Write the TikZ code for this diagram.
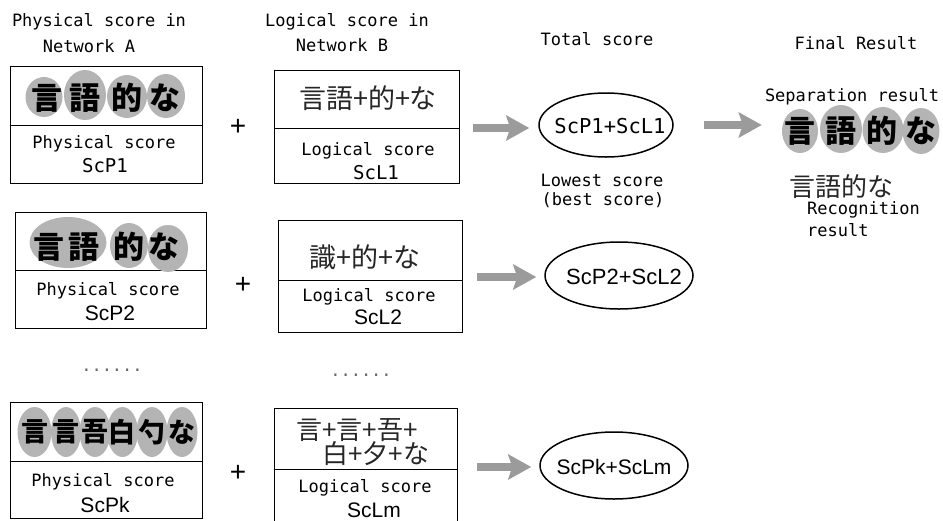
\documentclass[tikz,border=0pt]{standalone}
\usepackage{fontspec}
\usetikzlibrary{shapes.geometric,arrows.meta}
\newfontfamily\monofam{DejaVu Sans Mono}
\newfontfamily\sansfam{Liberation Sans}
\newfontfamily\cjkfam{Noto Sans CJK JP}
\definecolor{blobgray}{RGB}{180,180,180}
\definecolor{arrowgray}{RGB}{155,155,155}

\begin{document}
\begin{tikzpicture}[x=1pt,y=-1pt,
  boxpart/.style={draw, line width=1.3pt, inner sep=0, anchor=north west},
  label/.style={inner sep=0, font=\monofam\fontsize{17}{20}\selectfont},
  monoscore/.style={inner sep=0, font=\monofam\fontsize{19}{22}\selectfont},
  sansscore/.style={inner sep=0, font=\sansfam\fontsize{21}{24}\selectfont},
  sumell/.style={draw, ellipse, line width=1.5pt, inner sep=0},
  blob/.style={ellipse, fill=blobgray, inner sep=0},
  brush/.style={inner sep=0, font=\cjkfam\bfseries\fontsize{31}{34}\selectfont},
  brushs/.style={inner sep=0, font=\cjkfam\bfseries\fontsize{27}{30}\selectfont},
  mincho/.style={inner sep=0, text=black!85, font=\cjkfam\fontsize{27}{30}\selectfont},
  plussign/.style={inner sep=0, font=\sansfam\fontsize{28}{30}\selectfont},
  dotrow/.style={inner sep=0, text=black!60, font=\monofam\fontsize{17}{20}\selectfont},
  bigarrow/.style={draw=arrowgray, line width=8pt,
    -{Stealth[length=23pt,width=25pt,inset=4pt]}}
]
\useasboundingbox (0,0) rectangle (943,520);

% column headers
\node[label] (hA1) at (99,22) {Physical score in};
\node[label] (hA2) at (89,46) {Network A};
\node[label] (hB1) at (347,22) {Logical score in};
\node[label] (hB2) at (342,45) {Network B};
\node[label] (hT) at (597,39) {Total score};
\node[label] (hF) at (856,43) {Final Result};

% ---- row 1 ----
\node[boxpart, minimum width=192, minimum height=59] (p1top) at (10,66) {};
\node[boxpart, minimum width=192, minimum height=58] (p1bot) at (10,125) {};
\node[blob, minimum width=37, minimum height=40] (p1b1) at (44,97) {};
\node[blob, minimum width=42, minimum height=50] (p1b2) at (85,95) {};
\node[blob, minimum width=40, minimum height=43] (p1b3) at (127,96.5) {};
\node[blob, minimum width=38, minimum height=44] (p1b4) at (166,96) {};
\node[brush] (p1c1) at (47,98) {言};
\node[brush] (p1c2) at (85,98) {語};
\node[brush] (p1c3) at (127,98) {的};
\node[brush] (p1c4) at (165,98) {な};
\node[label] (p1t) at (104,144) {Physical score};
\node[monoscore] (p1s) at (105,166) {ScP1};

\node[plussign] (plus1) at (238,127) {+};

\node[boxpart, minimum width=185, minimum height=58] (l1top) at (274,70) {};
\node[boxpart, minimum width=185, minimum height=55] (l1bot) at (274,128) {};
\node[mincho] (l1c) at (368,98) {言語+的+な};
\node[label] (l1t) at (368,151) {Logical score};
\node[monoscore] (l1s) at (376,173) {ScL1};

\node[sumell, minimum width=134, minimum height=64] (e1) at (606,125) {};
\node[inner sep=0, font=\monofam\fontsize{20.5}{24}\selectfont] (e1t) at (610,126) {ScP1+ScL1};
\node[label] (low1) at (602,180) {Lowest score};
\node[label] (low2) at (603,200) {(best score)};

% final result
\node[label] (sepl) at (852,97) {Separation result};
\node[blob, minimum width=36, minimum height=44] (s1) at (800,131) {};
\node[blob, minimum width=42, minimum height=48] (s2) at (841,129) {};
\node[blob, minimum width=41, minimum height=46] (s3) at (883,130) {};
\node[blob, minimum width=37, minimum height=46] (s4) at (921,131) {};
\node[brush] (s1c) at (800,131) {言};
\node[brush] (s2c) at (841,131) {語};
\node[brush] (s3c) at (882,131) {的};
\node[brush] (s4c) at (921,131) {な};
\node[mincho, font=\cjkfam\fontsize{26}{30}\selectfont] (rec) at (841,187) {言語的な};
\node[label, anchor=west] (recl1) at (807,210) {Recognition};
\node[label, anchor=west] (recl2) at (807,230) {result};

% ---- row 2 ----
\node[boxpart, minimum width=191, minimum height=58] (p2top) at (15,212) {};
\node[boxpart, minimum width=191, minimum height=58] (p2bot) at (15,270) {};
\node[blob, minimum width=77, minimum height=51] (p2b1) at (68,242.5) {};
\node[blob, minimum width=38, minimum height=45] (p2b2) at (129,245.5) {};
\node[blob, minimum width=40, minimum height=47] (p2b3) at (168,248.5) {};
\node[brush] (p2c1) at (49,247) {言};
\node[brush] (p2c2) at (84,247) {語};
\node[brush] (p2c3) at (129,247) {的};
\node[brush] (p2c4) at (164,247) {な};
\node[label] (p2t) at (108,291) {Physical score};
\node[sansscore] (p2s) at (110,313) {ScP2};

\node[plussign] (plus2) at (243,285) {+};

\node[boxpart, minimum width=184, minimum height=60] (l2top) at (278,220) {};
\node[boxpart, minimum width=184, minimum height=52] (l2bot) at (278,280) {};
\node[mincho] (l2c) at (365,257) {識+的+な};
\node[label] (l2t) at (369,297) {Logical score};
\node[sansscore] (l2s) at (378,317) {ScL2};

\node[sumell, minimum width=148, minimum height=67] (e2) at (619,275.5) {};
\node[sansscore, font=\sansfam\fontsize{22}{24}\selectfont] (e2t) at (624,277) {ScP2+ScL2};

% ellipsis rows
\node[dotrow] (dots1) at (112,370) {......};
\node[dotrow] (dots2) at (361,375) {......};

% ---- row 3 ----
\node[boxpart, minimum width=192, minimum height=59] (p3top) at (10,402) {};
\node[boxpart, minimum width=192, minimum height=57] (p3bot) at (10,461) {};
\node[blob, minimum width=34, minimum height=50] (p3b1) at (34.5,432) {};
\node[blob, minimum width=30, minimum height=50] (p3b2) at (66,432) {};
\node[blob, minimum width=31, minimum height=50] (p3b3) at (95,432) {};
\node[blob, minimum width=31, minimum height=50] (p3b4) at (122.5,432) {};
\node[blob, minimum width=31, minimum height=50] (p3b5) at (152,432) {};
\node[blob, minimum width=31, minimum height=50] (p3b6) at (182,432) {};
\node[brushs] (p3c1) at (35,432) {言};
\node[brushs] (p3c2) at (66,432) {言};
\node[brushs] (p3c3) at (95,432) {吾};
\node[brushs] (p3c4) at (122,432) {白};
\node[brushs] (p3c5) at (152,432) {勺};
\node[brushs] (p3c6) at (182,432) {な};
\node[label] (p3t) at (103,482) {Physical score};
\node[sansscore] (p3s) at (105,505) {ScPk};

\node[plussign] (plus3) at (238,473) {+};

\node[boxpart, minimum width=183, minimum height=61] (l3top) at (274,408) {};
\node[boxpart, minimum width=183, minimum height=55] (l3bot) at (274,469) {};
\node[mincho, anchor=west, font=\cjkfam\fontsize{26}{30}\selectfont] (l3c1) at (296,430) {言+言+吾+};
\node[mincho, anchor=west, font=\cjkfam\fontsize{26}{30}\selectfont] (l3c2) at (322,454) {白+夕+な};
\node[label] (l3t) at (365,488) {Logical score};
\node[sansscore] (l3s) at (374,510) {ScLm};

\node[sumell, minimum width=148, minimum height=67] (e3) at (614,465.5) {};
\node[sansscore] (e3t) at (614,467) {ScPk+ScLm};

% connectors
\draw[bigarrow, shorten <=13pt, shorten >=9pt] (l1bot.north east) -- (l1bot.north east -| e1.west);
\draw[bigarrow, shorten <=14pt, shorten >=8pt] ([yshift=3pt]l2bot.north east) -- ([yshift=3pt]l2bot.north east -| e2.west);
\draw[bigarrow, shorten <=19pt, shorten >=8pt] ([yshift=2pt]l3bot.north east) -- ([yshift=2pt]l3bot.north east -| e3.west);
\draw[bigarrow, shorten <=30pt, shorten >=20pt] (e1.east) -- (e1.east -| s1.west);
\end{tikzpicture}
\end{document}
